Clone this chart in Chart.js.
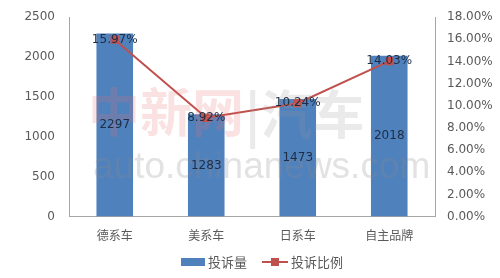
<!DOCTYPE html>
<html><head><meta charset="utf-8">
<script src="https://cdn.jsdelivr.net/npm/chart.js@4"></script>
<style>html,body{margin:0;padding:0;background:#fff}#w{width:500px;height:278px}</style>
</head><body><div id="w"><canvas id="c" width="500" height="278"></canvas></div>
<script>
const categories = ['德系车','美系车','日系车','自主品牌'];
const complaints = [2297, 1283, 1473, 2018];
const ratio = [15.97, 8.92, 10.24, 14.03];
const leftTicks = [0,500,1000,1500,2000,2500];
const rightTicks = [0,2,4,6,8,10,12,14,16,18];
const FONT = '"Noto Sans CJK SC","DejaVu Sans",sans-serif';

const watermark = {
  id:'wm',
  afterDatasetsDraw(chart){
    const c = chart.ctx; c.save();
    c.font = 'bold 52px "Noto Sans CJK SC"';
    c.textBaseline='middle';
    c.fillStyle='rgba(230,110,110,0.20)';
    c.fillText('中新网', 88, 112);
    c.fillStyle='rgba(150,150,150,0.20)';
    c.fillText('|汽车', 245, 114);
    c.font = '37px "Liberation Sans",sans-serif';
    c.fillStyle='rgba(140,140,140,0.25)';
    c.fillText('auto.chinanews.com', 93, 168);
    c.restore();
  }
};
const labels = {
  id:'lbl',
  afterDatasetsDraw(chart){
    const c = chart.ctx; c.save();
    c.font = '12px "DejaVu Sans",sans-serif';
    c.fillStyle='#1F2D44'; c.textAlign='center'; c.textBaseline='middle';
    const bm = chart.getDatasetMeta(0), lm = chart.getDatasetMeta(1);
    bm.data.forEach((b,i)=>{ c.fillText(String(complaints[i]), b.x, (b.y+b.base)/2); });
    lm.data.forEach((p,i)=>{ c.fillText(ratio[i].toFixed(2)+'%', p.x, p.y); });
    c.restore();
  }
};
const legend = {
  id:'lg',
  afterDraw(chart){
    const c = chart.ctx; c.save();
    c.font = '13px "Noto Sans CJK SC"'; c.textBaseline='middle'; c.fillStyle='#595959';
    const y = 262;
    c.fillStyle='#4F81BD'; c.fillRect(181, y-4, 24, 8);
    c.fillStyle='#595959'; c.fillText('投诉量', 208, y);
    c.strokeStyle='#C0504D'; c.lineWidth=2; c.beginPath(); c.moveTo(262,y); c.lineTo(288,y); c.stroke();
    c.fillStyle='#C0504D'; c.fillRect(271, y-4, 8, 8);
    c.fillStyle='#595959'; c.fillText('投诉比例', 291, y);
    c.restore();
  }
};

new Chart(document.getElementById('c'), {
  data:{
    labels: categories,
    datasets:[
      {type:'bar', label:'投诉量', data:complaints, backgroundColor:'#4F81BD', yAxisID:'y', categoryPercentage:0.8, barPercentage:0.5, order:2},
      {type:'line', label:'投诉比例', data:ratio, borderColor:'#C0504D', backgroundColor:'#C0504D', borderWidth:2, pointStyle:'rect', pointRadius:4.5, yAxisID:'y2', order:1}
    ]
  },
  plugins:[watermark, labels, legend],
  options:{
    responsive:false, animation:false, devicePixelRatio:1,
    layout:{padding:{top:9, bottom:23, left:0, right:0}},
    plugins:{legend:{display:false}, tooltip:{enabled:false}},
    scales:{
      x:{grid:{display:false, drawTicks:false}, border:{color:'#A6A6A6'},
         ticks:{color:'#595959', font:{family:FONT, size:12}, padding:12}},
      y:{position:'left', min:0, max:2500, grid:{display:false, drawOnChartArea:false, tickLength:4, color:'#A6A6A6'}, border:{color:'#A6A6A6', display:true},
         afterBuildTicks(a){a.ticks=leftTicks.map(v=>({value:v}));},
         afterFit(a){a.width=69;},
         ticks:{color:'#595959', font:{family:'"DejaVu Sans"', size:12}, padding:10, callback:v=>String(v)}},
      y2:{position:'right', min:0, max:18, grid:{display:false, drawOnChartArea:false, tickLength:4, color:'#A6A6A6'}, border:{color:'#A6A6A6'},
         afterBuildTicks(a){a.ticks=rightTicks.map(v=>({value:v}));},
         afterFit(a){a.width=65;},
         ticks:{color:'#595959', font:{family:'"DejaVu Sans"', size:12}, padding:8, callback:v=>v.toFixed(2)+'%'}}
    }
  }
});
</script></body></html>
